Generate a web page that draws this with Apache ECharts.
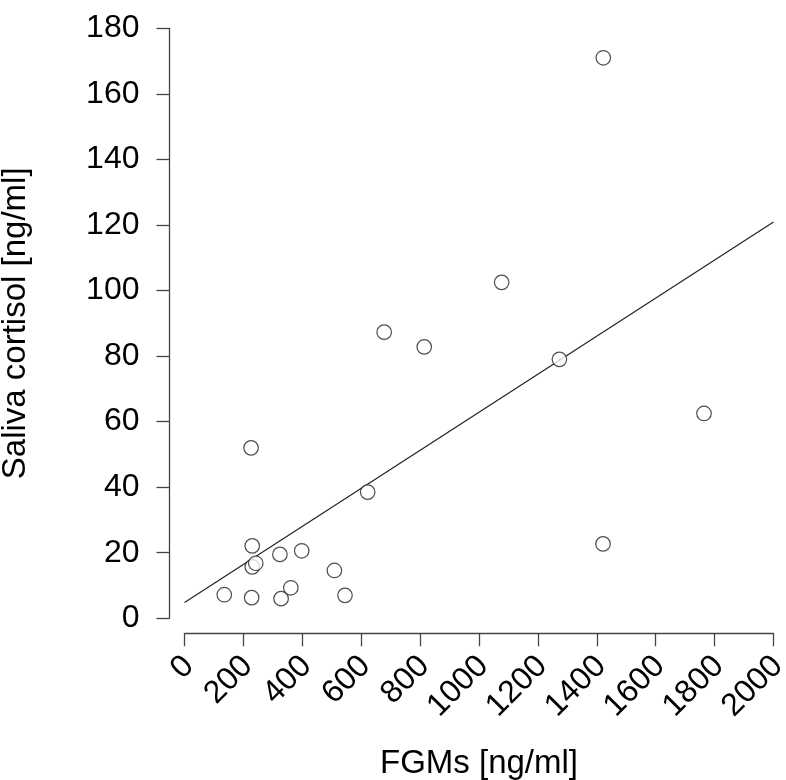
<!DOCTYPE html>
<html><head><meta charset="utf-8">
<script src="https://cdn.jsdelivr.net/npm/echarts@6/dist/echarts.min.js"></script>
<style>html,body{margin:0;padding:0;background:#fff}#c{width:786px;height:780px}</style>
</head><body><div id="c"></div>
<script>
const fgm = [226, 230, 324, 398, 230, 242, 509, 135, 228, 328, 361, 545, 622, 678, 814, 1077, 1273, 1421, 1422, 1764];
const cortisol = [52.0, 22.1, 19.5, 20.6, 15.7, 16.8, 14.6, 7.2, 6.3, 6.0, 9.3, 7.0, 38.5, 87.3, 82.8, 102.5, 79.0, 22.7, 171.0, 62.5];
const fitX = [0, 2000];
const fitY = [4.8, 120.9];
const xTicks = [0,200,400,600,800,1000,1200,1400,1600,1800,2000];
const yTicks = [0,20,40,60,80,100,120,140,160,180];

const pts = fgm.map((x,i)=>[x, cortisol[i]]);
const line = fitX.map((x,i)=>[x, fitY[i]]);
const font = 'Liberation Sans, Arial, sans-serif';
const chart = echarts.init(document.getElementById('c'), null, {renderer:'canvas'});
chart.setOption({
  animation:false,
  grid:{left:184.5, right:786-773.5, top:28.3, bottom:780-618.3, containLabel:false, outerBoundsMode:'none'},
  xAxis:{type:'value', min:0, max:2000, interval:200, offset:15,
    name:'FGMs [ng/ml]', nameLocation:'middle', nameGap:114,
    nameTextStyle:{fontFamily:font, fontSize:33, color:'#000'},
    axisLine:{show:true, onZero:false, lineStyle:{color:'#444', width:1.3}},
    axisTick:{show:true, length:13, lineStyle:{color:'#444', width:1.3}},
    axisLabel:{rotate:45, margin:32, padding:[0,-6,0,0], fontFamily:font, fontSize:32, color:'#000',
      formatter:v=>String(v)},
    splitLine:{show:false}},
  yAxis:{type:'value', min:0, max:180, interval:20, offset:15,
    name:'Saliva cortisol [ng/ml]', nameLocation:'middle', nameGap:137, nameRotate:90,
    nameTextStyle:{fontFamily:font, fontSize:33, color:'#000'},
    axisLine:{show:true, onZero:false, lineStyle:{color:'#444', width:1.3}},
    axisTick:{show:true, length:13, lineStyle:{color:'#444', width:1.3}},
    axisLabel:{margin:30, fontFamily:font, fontSize:32, color:'#000',
      formatter:v=>String(v)},
    splitLine:{show:false}},
  series:[
    {type:'line', data:line, symbol:'none', lineStyle:{color:'#222', width:1.2}, z:1},
    {type:'scatter', data:pts, symbol:'circle', symbolSize:14.5,
      itemStyle:{color:'#fff', borderColor:'#222', borderWidth:1.2}, z:2}
  ]
});
</script></body></html>
